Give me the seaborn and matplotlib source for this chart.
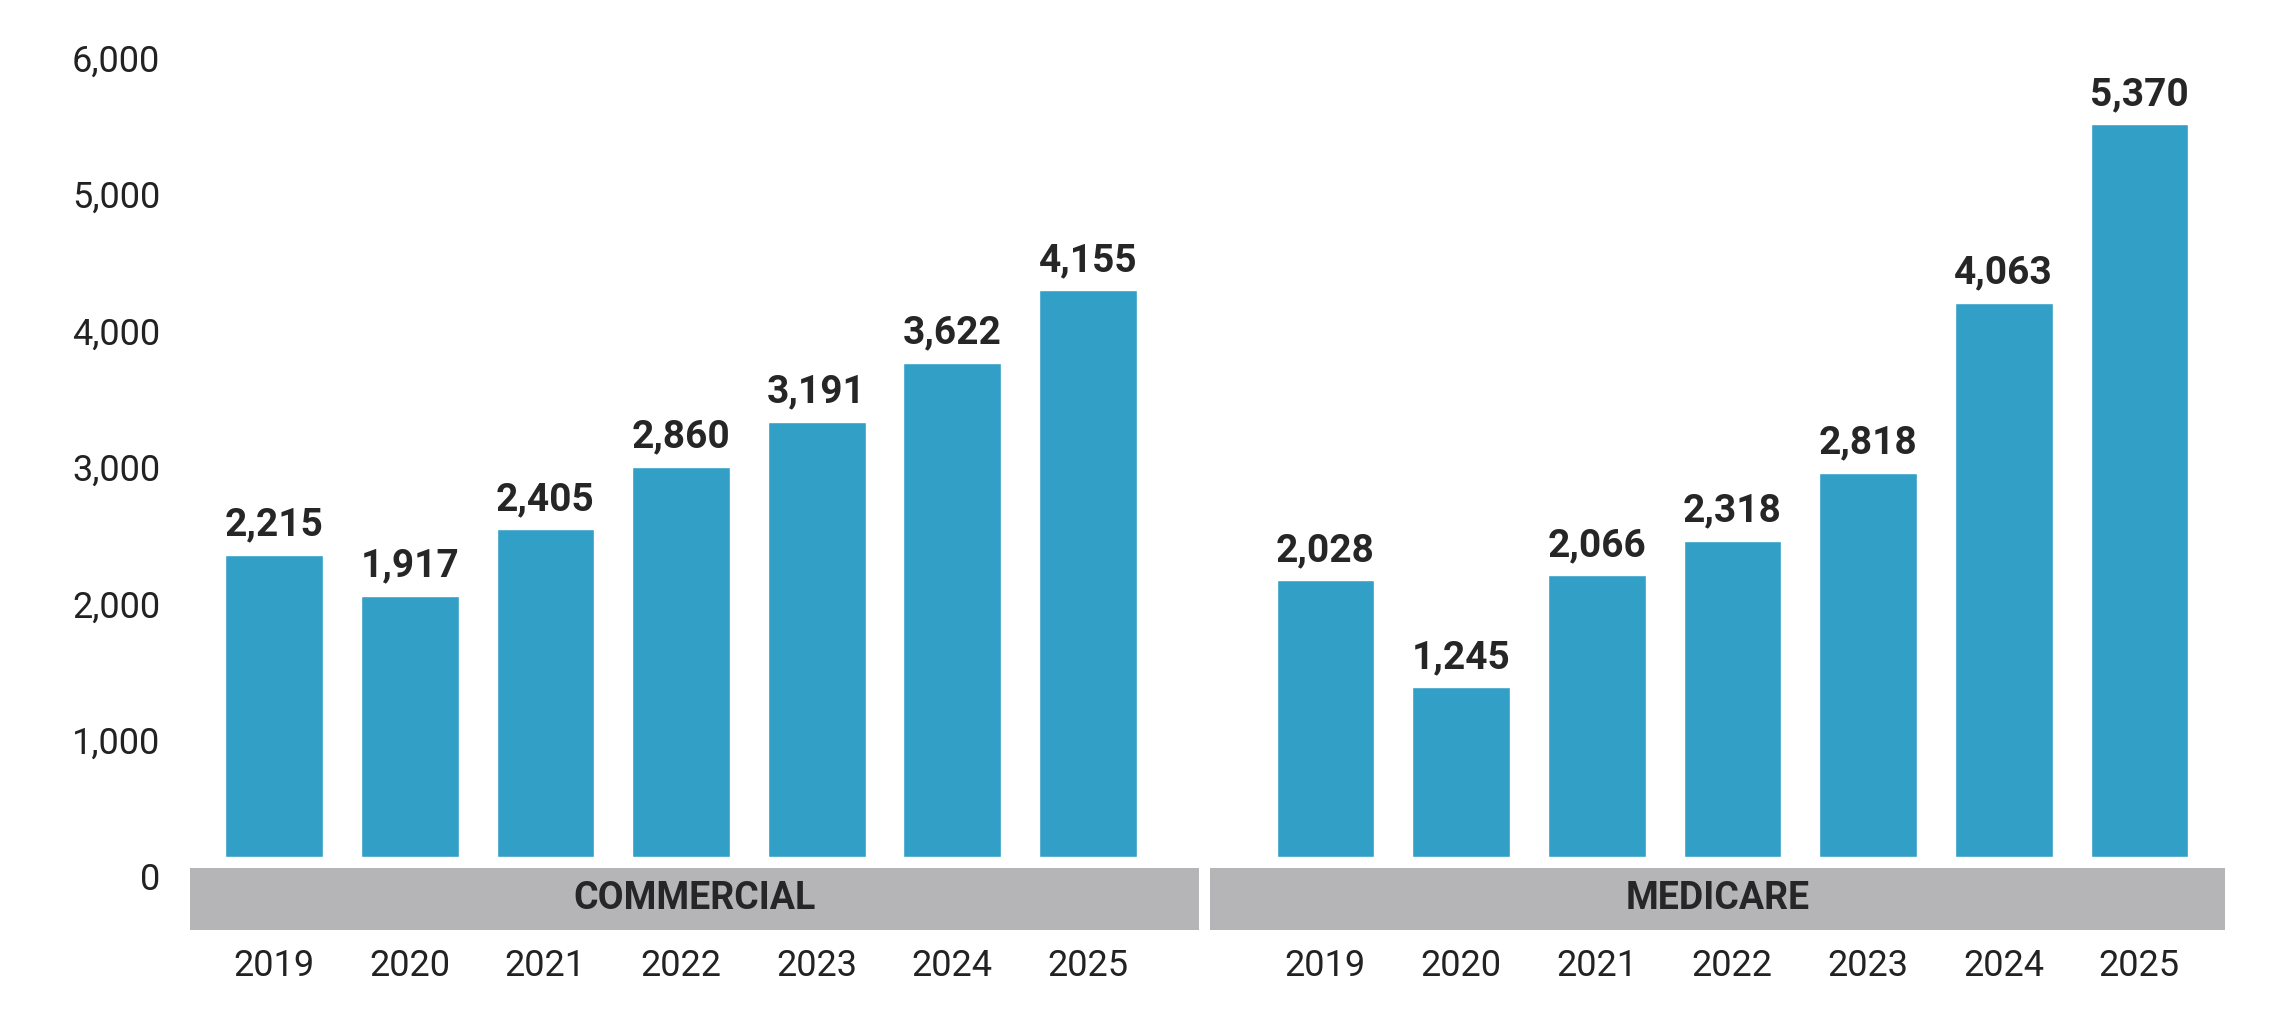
import matplotlib.pyplot as plt
import matplotlib.patches as mpatches
import pandas as pd
import seaborn as sns

years = ["2019", "2020", "2021", "2022", "2023", "2024", "2025"]
commercial = [2215, 1917, 2405, 2860, 3191, 3622, 4155]
medicare = [2028, 1245, 2066, 2318, 2818, 4063, 5370]
groups = ["COMMERCIAL", "MEDICARE"]
yticks = [0, 1000, 2000, 3000, 4000, 5000, 6000]

bar_color = "#329fc6"
band_color = "#b5b5b8"
gap = 7.75  # offset of the second group on the x axis

pos = [i for i in range(len(years))] + [gap + i for i in range(len(years))]
df = pd.DataFrame({"pos": pos, "value": commercial + medicare})

sns.set_style("white")
plt.rcParams["font.family"] = ["Roboto", "DejaVu Sans"]

fig = plt.figure(figsize=(22.75, 10.17), dpi=100)
ax = fig.add_axes([0, 0, 1, 1])
sns.barplot(data=df, x="pos", y="value", native_scale=True, width=0.72,
            color=bar_color, saturation=1, ax=ax)

ax.set_xlim(-2.02, 14.75)
ax.set_ylim(-1170, 6280)
ax.axis("off")

# value labels
for x, v in zip(df["pos"], df["value"]):
    ax.annotate(f"{v:,}", (x, v), xytext=(0, 8), textcoords="offset points",
                ha="center", va="bottom", fontsize=28, fontweight="bold")

# y tick labels
for t in yticks:
    ax.text(-0.84, t - 170, f"{t:,}", ha="right", va="center", fontsize=26, color="#222222")

# group bands and year labels
spans = [(-0.62, 6.82), (6.9, 14.38)]
for (x0, x1), name, off in zip(spans, groups, [0, gap]):
    ax.add_patch(mpatches.Rectangle((x0, -532), x1 - x0, 457, color=band_color, lw=0))
    ax.text((x0 + x1) / 2, -303, name, ha="center", va="center", fontsize=27,
            fontweight="bold", stretch="condensed")
    for i, y in enumerate(years):
        ax.text(off + i, -800, y, ha="center", va="center", fontsize=26, color="#222222")

plt.savefig("out.png", dpi=100)
